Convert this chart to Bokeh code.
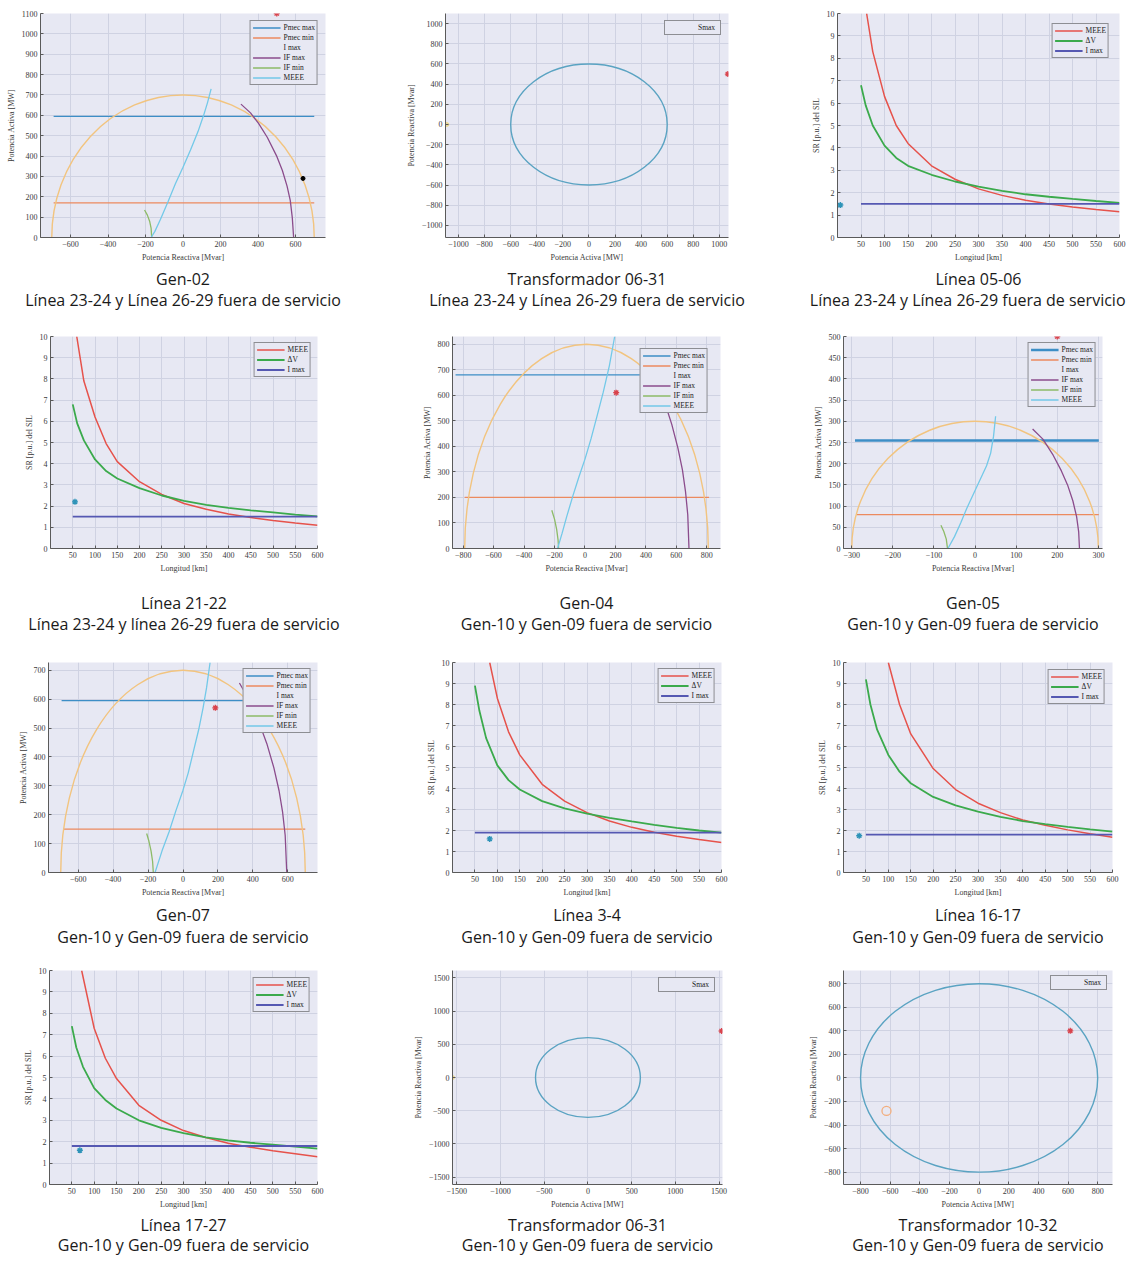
from bokeh.plotting import figure
from bokeh.layouts import column, row
from bokeh.models import Range1d, FixedTicker, Title, Legend, LegendItem
from bokeh.embed import file_html
from bokeh.resources import INLINE

# ===================== DATA =====================
# ---- Gen-02 (Línea 23-24 y Línea 26-29 fuera de servicio) ----
g02_pmax_x = [-690, 700]; g02_pmax_y = [595, 595]
g02_pmin_x = [-690, 700]; g02_pmin_y = [170, 170]
g02_imax_c = 0; g02_imax_r = 700
g02_ifmax_x = [309, 360, 403, 450, 501, 530, 555, 572, 583, 590]
g02_ifmax_y = [655, 612, 560, 491, 397, 329, 252, 182, 96, 0]
g02_ifmin_x = [-205, -190, -178, -170, -167]
g02_ifmin_y = [135, 110, 80, 45, 0]
g02_meee_x = [-170, -150, -120, -80, -40, 0, 40, 80, 110, 130, 150]
g02_meee_y = [0, 30, 90, 175, 265, 345, 430, 520, 600, 660, 730]
g02_op_x = [500]; g02_op_y = [1100]
g02_dot_x = [640]; g02_dot_y = [290]

# ---- Transformador 06-31 (Línea 23-24 ...) ----
t0631a_r = 600
t0631a_op_x = [1065]; t0631a_op_y = [500]
t0631a_op2_x = [-1090]; t0631a_op2_y = [0]

# ---- Línea 05-06 ----
l0506_meee_x = [62, 75, 100, 125, 150, 200, 250, 300, 350, 400, 450, 500, 550, 600]
l0506_meee_y = [10, 8.3, 6.3, 5.0, 4.2, 3.2, 2.6, 2.17, 1.88, 1.66, 1.5, 1.36, 1.25, 1.15]
l0506_dv_x = [50, 60, 75, 100, 125, 150, 200, 250, 300, 350, 400, 450, 500, 550, 600]
l0506_dv_y = [6.8, 5.9, 5.0, 4.1, 3.55, 3.2, 2.8, 2.5, 2.27, 2.08, 1.93, 1.82, 1.72, 1.63, 1.55]
l0506_imax_x = [50, 600]; l0506_imax_y = [1.5, 1.5]
l0506_op_x = [6]; l0506_op_y = [1.45]

# ---- Línea 21-22 ----
l2122_meee_x = [59, 75, 100, 125, 150, 200, 250, 300, 350, 400, 450, 500, 550, 600]
l2122_meee_y = [10, 7.9, 6.2, 4.95, 4.1, 3.15, 2.55, 2.12, 1.85, 1.63, 1.46, 1.32, 1.2, 1.1]
l2122_dv_x = [50, 60, 75, 100, 125, 150, 200, 250, 300, 350, 400, 450, 500, 550, 600]
l2122_dv_y = [6.8, 5.9, 5.1, 4.2, 3.65, 3.3, 2.85, 2.5, 2.25, 2.06, 1.92, 1.8, 1.7, 1.6, 1.52]
l2122_imax_x = [50, 600]; l2122_imax_y = [1.5, 1.5]
l2122_op_x = [55]; l2122_op_y = [2.2]

# ---- Gen-04 (Gen-10 y Gen-09 fuera de servicio) ----
g04_pmax_x = [-850, 800]; g04_pmax_y = [680, 680]
g04_pmin_x = [-790, 815]; g04_pmin_y = [200, 200]
g04_imax_c = 10; g04_imax_r = 800
g04_ifmax_x = [388, 430, 480, 530, 570, 610, 640, 660, 675, 683]
g04_ifmax_y = [750, 702, 637, 560, 486, 394, 308, 224, 132, 0]
g04_ifmin_x = [-218, -200, -186, -177, -173]
g04_ifmin_y = [150, 115, 75, 35, 0]
g04_meee_x = [-180, -150, -120, -80, -40, 0, 40, 80, 120, 160, 195]
g04_meee_y = [0, 60, 125, 205, 280, 350, 430, 520, 612, 715, 830]
g04_op_x = [205]; g04_op_y = [610]

# ---- Gen-05 ----
g05_pmax_x = [-292, 301]; g05_pmax_y = [255, 255]
g05_pmin_x = [-288, 301]; g05_pmin_y = [80, 80]
g05_imax_c = 0; g05_imax_r = 300
g05_ifmax_x = [140, 165, 190, 210, 225, 238, 247, 252, 254]
g05_ifmax_y = [282, 258, 220, 183, 150, 112, 75, 40, 0]
g05_ifmin_x = [-83, -76, -70, -67]
g05_ifmin_y = [55, 40, 22, 0]
g05_meee_x = [-66, -50, -35, -20, 0, 15, 28, 38, 45, 50]
g05_meee_y = [0, 28, 60, 95, 137, 168, 195, 225, 265, 312]
g05_op_x = [200]; g05_op_y = [500]

# ---- Gen-07 ----
g07_pmax_x = [-695, 700]; g07_pmax_y = [595, 595]
g07_pmin_x = [-684, 700]; g07_pmin_y = [150, 150]
g07_imax_c = 0; g07_imax_r = 700
g07_ifmax_x = [323, 360, 400, 440, 480, 520, 550, 570, 585, 594]
g07_ifmax_y = [656, 617, 568, 512, 446, 363, 283, 210, 129, 0]
g07_ifmin_x = [-208, -195, -183, -174, -170]
g07_ifmin_y = [135, 108, 75, 38, 0]
g07_meee_x = [-160, -120, -80, -40, 0, 30, 60, 90, 115, 135, 155]
g07_meee_y = [0, 75, 140, 215, 285, 345, 420, 495, 570, 640, 727]
g07_op_x = [185]; g07_op_y = [570]

# ---- Línea 3-4 ----
l0304_meee_x = [83, 100, 125, 150, 200, 250, 300, 350, 400, 450, 500, 550, 600]
l0304_meee_y = [10, 8.3, 6.7, 5.6, 4.2, 3.4, 2.85, 2.45, 2.15, 1.92, 1.73, 1.57, 1.43]
l0304_dv_x = [50, 60, 75, 100, 125, 150, 200, 250, 300, 350, 400, 450, 500, 550, 600]
l0304_dv_y = [8.9, 7.7, 6.4, 5.1, 4.4, 3.95, 3.4, 3.05, 2.8, 2.6, 2.43, 2.27, 2.13, 2.0, 1.9]
l0304_imax_x = [50, 600]; l0304_imax_y = [1.9, 1.9]
l0304_op_x = [83]; l0304_op_y = [1.6]

# ---- Línea 16-17 ----
l1617_meee_x = [100, 125, 150, 200, 250, 300, 350, 400, 450, 500, 550, 600]
l1617_meee_y = [10, 8.0, 6.6, 4.95, 3.95, 3.3, 2.85, 2.5, 2.25, 2.03, 1.85, 1.68]
l1617_dv_x = [50, 60, 75, 100, 125, 150, 200, 250, 300, 350, 400, 450, 500, 550, 600]
l1617_dv_y = [9.2, 8.0, 6.8, 5.6, 4.8, 4.25, 3.6, 3.2, 2.9, 2.65, 2.45, 2.3, 2.17, 2.05, 1.95]
l1617_imax_x = [50, 600]; l1617_imax_y = [1.8, 1.8]
l1617_op_x = [35]; l1617_op_y = [1.75]

# ---- Línea 17-27 ----
l1727_meee_x = [72, 100, 125, 150, 200, 250, 300, 350, 400, 450, 500, 550, 600]
l1727_meee_y = [10, 7.3, 5.9, 4.95, 3.7, 3.0, 2.52, 2.2, 1.93, 1.74, 1.58, 1.44, 1.3]
l1727_dv_x = [50, 60, 75, 100, 125, 150, 200, 250, 300, 350, 400, 450, 500, 550, 600]
l1727_dv_y = [7.4, 6.4, 5.5, 4.5, 3.95, 3.55, 3.0, 2.65, 2.4, 2.2, 2.06, 1.95, 1.86, 1.77, 1.68]
l1727_imax_x = [50, 600]; l1727_imax_y = [1.8, 1.8]
l1727_op_x = [68]; l1727_op_y = [1.6]

# ---- Transformador 06-31 (Gen-10 y Gen-09 ...) ----
t0631b_r = 600
t0631b_op_x = [1530]; t0631b_op_y = [700]
t0631b_op2_x = [-1550]; t0631b_op2_y = [0]

# ---- Transformador 10-32 ----
t1032_r = 800
t1032_op_x = [615]; t1032_op_y = [400]
t1032_op2_x = [-625]; t1032_op2_y = [-280]

# tick label sets
sr_xticks = [50, 100, 150, 200, 250, 300, 350, 400, 450, 500, 550, 600]
sr_yticks = [0, 1, 2, 3, 4, 5, 6, 7, 8, 9, 10]

# ===================== STYLE =====================
BG = "#E7E8F3"
GRID = "#CFD2E2"
AXC = "#5A5A5A"
TXT = "#3A3A3A"
SERIF = "Liberation Serif"
SANS = "Open Sans"
C_PMAX = "#3D8EC6"
C_PMIN = "#EC8A5F"
C_IMAX = "#F2C47F"
C_IFMAX = "#8B4C8C"
C_IFMIN = "#8DBB67"
C_MEEE = "#73C9E8"
C_RED = "#E6524B"
C_GREEN = "#3BAA4C"
C_BLUE = "#5558B2"
C_OPSR = "#2E93B8"
C_OP = "#D9434C"
C_SMAX = "#5AA3C2"


def base_fig(w, h, l, r, t, b, xr, yr, xt, yt, xlab, ylab):
    p = figure(width=w, height=h, x_range=Range1d(xr[0], xr[1]),
               y_range=Range1d(yr[0], yr[1]), output_backend="svg",
               toolbar_location=None, min_border_left=l, min_border_right=r,
               min_border_top=t, min_border_bottom=b,
               background_fill_color=BG, border_fill_color="white",
               outline_line_color=None)
    for ax, ticks, lab in ((p.xaxis[0], xt, xlab), (p.yaxis[0], yt, ylab)):
        ax.ticker = FixedTicker(ticks=ticks)
        ax.axis_label = lab
        ax.axis_label_text_font = SERIF
        ax.axis_label_text_font_size = "8px"
        ax.axis_label_text_font_style = "normal"
        ax.axis_label_text_color = TXT
        ax.axis_label_standoff = 3
        ax.major_label_text_font = SERIF
        ax.major_label_text_font_size = "8px"
        ax.major_label_text_color = TXT
        ax.major_label_standoff = 3
        ax.axis_line_color = AXC
        ax.major_tick_line_color = AXC
        ax.major_tick_in = 3
        ax.major_tick_out = 0
        ax.minor_tick_line_color = None
    p.xgrid.grid_line_color = GRID
    p.ygrid.grid_line_color = GRID
    return p


def add_caps(p, c1, c2, cap):
    s1, s2, gap, align2, off2 = cap
    if gap:
        p.add_layout(Title(text=" ", text_font_size="1px", standoff=gap,
                           text_color="white"), "below")
    p.add_layout(Title(text=c1, align="center", standoff=s1,
                       text_font=SANS, text_font_size="16px",
                       text_font_style="normal", text_color="#1A1A1A"), "below")
    p.add_layout(Title(text=c2, align=align2, offset=off2, standoff=s2,
                       text_font=SANS, text_font_size="16px",
                       text_font_style="normal", text_color="#1A1A1A"), "below")


def add_legend(p, items, margin):
    leg = Legend(items=items, location="top_right", margin=margin,
                 padding=2, spacing=1, label_height=9, glyph_height=9,
                 glyph_width=28, label_standoff=3,
                 label_text_font=SERIF, label_text_font_size="7.5px",
                 label_text_color="#222222",
                 border_line_color="#333333", border_line_width=1,
                 background_fill_color=BG, background_fill_alpha=1)
    p.add_layout(leg)


def gen_panel(w, h, l, r, t, b, xr, yr, xt, yt, d, cap1, cap2, cap, lm, pw=1.3):
    p = base_fig(w, h, l, r, t, b, xr, yr, xt, yt,
                 "Potencia Reactiva [Mvar]", "Potencia Activa [MW]")
    r1 = p.line(d["pmax_x"], d["pmax_y"], line_color=C_PMAX, line_width=pw)
    r2 = p.line(d["pmin_x"], d["pmin_y"], line_color=C_PMIN, line_width=1.3)
    p.ellipse(x=[d["imax_c"]], y=[0], width=[2 * d["imax_r"]], height=[2 * d["imax_r"]],
              fill_color=None, line_color=C_IMAX, line_width=1.4)
    r3 = p.line([], [], line_color=C_IMAX, line_width=1.4)
    r4 = p.line(d["ifmax_x"], d["ifmax_y"], line_color=C_IFMAX, line_width=1.3)
    r5 = p.line(d["ifmin_x"], d["ifmin_y"], line_color=C_IFMIN, line_width=1.3)
    r6 = p.line(d["meee_x"], d["meee_y"], line_color=C_MEEE, line_width=1.3)
    p.scatter(d["op_x"], d["op_y"], marker="asterisk", size=6,
              line_color=C_OP, line_width=1.3)
    if "dot_x" in d:
        p.scatter(d["dot_x"], d["dot_y"], marker="circle", size=4,
                  fill_color="black", line_color="black")
    add_legend(p, [LegendItem(label="Pmec max", renderers=[r1]),
                   LegendItem(label="Pmec min", renderers=[r2]),
                   LegendItem(label="I max", renderers=[r3]),
                   LegendItem(label="IF max", renderers=[r4]),
                   LegendItem(label="IF min", renderers=[r5]),
                   LegendItem(label="MEEE", renderers=[r6])], lm)
    add_caps(p, cap1, cap2, cap)
    return p


def sr_panel(w, h, l, r, t, b, mx, my, dx, dy, ix, iy, ox, oy, cap1, cap2, cap, lm):
    p = base_fig(w, h, l, r, t, b, (0, 600), (0, 10), sr_xticks, sr_yticks,
                 "Longitud [km]", "SR [p.u.] del SIL")
    r1 = p.line(mx, my, line_color=C_RED, line_width=1.5)
    r2 = p.line(dx, dy, line_color=C_GREEN, line_width=1.8)
    r3 = p.line(ix, iy, line_color=C_BLUE, line_width=1.8)
    p.scatter(ox, oy, marker="asterisk", size=6, line_color=C_OPSR, line_width=1.4)
    add_legend(p, [LegendItem(label="MEEE", renderers=[r1]),
                   LegendItem(label="ΔV", renderers=[r2]),
                   LegendItem(label="I max", renderers=[r3])], lm)
    add_caps(p, cap1, cap2, cap)
    return p


def tr_panel(w, h, l, r, t, b, xr, yr, xt, yt, rad, ox, oy, o2x, o2y, cap1, cap2, cap, lm, open2=False):
    p = base_fig(w, h, l, r, t, b, xr, yr, xt, yt,
                 "Potencia Activa [MW]", "Potencia Reactiva [Mvar]")
    p.ellipse(x=[0], y=[0], width=[2 * rad], height=[2 * rad], fill_color=None,
              line_color=C_SMAX, line_width=1.4)
    r1 = p.line([], [], line_color=C_SMAX, line_width=1.4)
    p.scatter(ox, oy, marker="asterisk", size=6, line_color=C_OP, line_width=1.3)
    if open2:
        p.scatter(o2x, o2y, marker="circle", size=9, fill_color=None,
                  line_color="#F2AE7E", line_width=1.3)
    else:
        p.scatter(o2x, o2y, marker="circle", size=4, fill_color="#E9D47A",
                  line_color="#E9D47A", fill_alpha=0.7, line_alpha=0.7)
    add_legend(p, [LegendItem(label="Smax", renderers=[r1])], lm)
    add_caps(p, cap1, cap2, cap)
    return p


CAP_A = "Línea 23-24 y Línea 26-29 fuera de servicio"
CAP_A2 = "Línea 23-24 y línea 26-29 fuera de servicio"
CAP_B = "Gen-10 y Gen-09 fuera de servicio"

gx600 = [-600, -400, -200, 0, 200, 400, 600]
gx800 = [-800, -600, -400, -200, 0, 200, 400, 600, 800]
gx300 = [-300, -200, -100, 0, 100, 200, 300]
ty1000 = [-1000, -800, -600, -400, -200, 0, 200, 400, 600, 800, 1000]
t1500 = [-1500, -1000, -500, 0, 500, 1000, 1500]
t800 = [-800, -600, -400, -200, 0, 200, 400, 600, 800]

d02 = dict(pmax_x=g02_pmax_x, pmax_y=g02_pmax_y, pmin_x=g02_pmin_x, pmin_y=g02_pmin_y,
           imax_c=g02_imax_c, imax_r=g02_imax_r, ifmax_x=g02_ifmax_x, ifmax_y=g02_ifmax_y,
           ifmin_x=g02_ifmin_x, ifmin_y=g02_ifmin_y, meee_x=g02_meee_x, meee_y=g02_meee_y,
           op_x=g02_op_x, op_y=g02_op_y, dot_x=g02_dot_x, dot_y=g02_dot_y)
d04 = dict(pmax_x=g04_pmax_x, pmax_y=g04_pmax_y, pmin_x=g04_pmin_x, pmin_y=g04_pmin_y,
           imax_c=g04_imax_c, imax_r=g04_imax_r, ifmax_x=g04_ifmax_x, ifmax_y=g04_ifmax_y,
           ifmin_x=g04_ifmin_x, ifmin_y=g04_ifmin_y, meee_x=g04_meee_x, meee_y=g04_meee_y,
           op_x=g04_op_x, op_y=g04_op_y)
d05 = dict(pmax_x=g05_pmax_x, pmax_y=g05_pmax_y, pmin_x=g05_pmin_x, pmin_y=g05_pmin_y,
           imax_c=g05_imax_c, imax_r=g05_imax_r, ifmax_x=g05_ifmax_x, ifmax_y=g05_ifmax_y,
           ifmin_x=g05_ifmin_x, ifmin_y=g05_ifmin_y, meee_x=g05_meee_x, meee_y=g05_meee_y,
           op_x=g05_op_x, op_y=g05_op_y)
d07 = dict(pmax_x=g07_pmax_x, pmax_y=g07_pmax_y, pmin_x=g07_pmin_x, pmin_y=g07_pmin_y,
           imax_c=g07_imax_c, imax_r=g07_imax_r, ifmax_x=g07_ifmax_x, ifmax_y=g07_ifmax_y,
           ifmin_x=g07_ifmin_x, ifmin_y=g07_ifmin_y, meee_x=g07_meee_x, meee_y=g07_meee_y,
           op_x=g07_op_x, op_y=g07_op_y)

# caption placement per row: (standoff1, standoff2, spacer gap, align line 2, offset line 2)
CAP_R1 = (2, -8, 0, "center", 0)
CAP_R1R = (2, -8, 0, "right", -6)
CAP_R2 = (2, -8, 10, "center", 0)
CAP_R3 = (4, -8, 0, "center", 0)
CAP_R4 = (0, -8, 0, "center", 0)

# Row 1 (height 320)
p1 = gen_panel(379, 320, 40, 54, 13, 83, (-760, 760), (0, 1100), gx600,
               list(range(0, 1101, 100)), d02, "Gen-02", CAP_A, CAP_R1, 7)
p2 = tr_panel(379, 320, 66, 30, 13, 83, (-1100, 1070), (-1120, 1100), ty1000, ty1000,
              t0631a_r, t0631a_op_x, t0631a_op_y, t0631a_op2_x, t0631a_op2_y,
              "Transformador 06-31", CAP_A, CAP_R1, 7)
p3 = sr_panel(379, 320, 79, 18, 13, 83, l0506_meee_x, l0506_meee_y, l0506_dv_x, l0506_dv_y,
              l0506_imax_x, l0506_imax_y, l0506_op_x, l0506_op_y,
              "Línea 05-06", CAP_A, CAP_R1R, 10)
# Row 2 (height 330)
p4 = sr_panel(379, 330, 50, 62, 16, 102, l2122_meee_x, l2122_meee_y, l2122_dv_x, l2122_dv_y,
              l2122_imax_x, l2122_imax_y, l2122_op_x, l2122_op_y,
              "Línea 21-22", CAP_A2, CAP_R2, 6)
p5 = gen_panel(379, 330, 73, 38, 16, 102, (-870, 890), (0, 830), gx800,
               list(range(0, 801, 100)), d04, "Gen-04", CAP_B, CAP_R2, 12)
p6 = gen_panel(379, 330, 85, 35, 16, 102, (-320, 310), (0, 500), gx300,
               list(range(0, 501, 50)), d05, "Gen-05", CAP_B, CAP_R2, 6, pw=2.5)
# Row 3 (height 305)
p7 = gen_panel(379, 305, 48, 62, 12, 83, (-770, 770), (0, 727), gx600,
               list(range(0, 701, 100)), d07, "Gen-07", CAP_B, CAP_R3, 6)
p8 = sr_panel(379, 305, 73, 37, 12, 83, l0304_meee_x, l0304_meee_y, l0304_dv_x, l0304_dv_y,
              l0304_imax_x, l0304_imax_y, l0304_op_x, l0304_op_y,
              "Línea 3-4", CAP_B, CAP_R3, 6)
p9 = sr_panel(379, 305, 85, 25, 12, 83, l1617_meee_x, l1617_meee_y, l1617_dv_x, l1617_dv_y,
              l1617_imax_x, l1617_imax_y, l1617_op_x, l1617_op_y,
              "Línea 16-17", CAP_B, CAP_R3, 7)
# Row 4 (height 307)
p10 = sr_panel(379, 307, 49, 62, 15, 78, l1727_meee_x, l1727_meee_y, l1727_dv_x, l1727_dv_y,
               l1727_imax_x, l1727_imax_y, l1727_op_x, l1727_op_y,
               "Línea 17-27", CAP_B, CAP_R4, 7)
p11 = tr_panel(379, 307, 73, 36, 15, 78, (-1550, 1540), (-1610, 1610), t1500, t1500,
               t0631b_r, t0631b_op_x, t0631b_op_y, t0631b_op2_x, t0631b_op2_y,
               "Transformador 06-31", CAP_B, CAP_R4, 7)
p12 = tr_panel(379, 307, 85, 25, 15, 78, (-915, 900), (-905, 912), t800, t800,
               t1032_r, t1032_op_x, t1032_op_y, t1032_op2_x, t1032_op2_y,
               "Transformador 10-32", CAP_B, CAP_R4, 5, open2=True)

layout = column(row(p1, p2, p3), row(p4, p5, p6), row(p7, p8, p9), row(p10, p11, p12))

open("out.html", "w").write(file_html(layout, INLINE))
